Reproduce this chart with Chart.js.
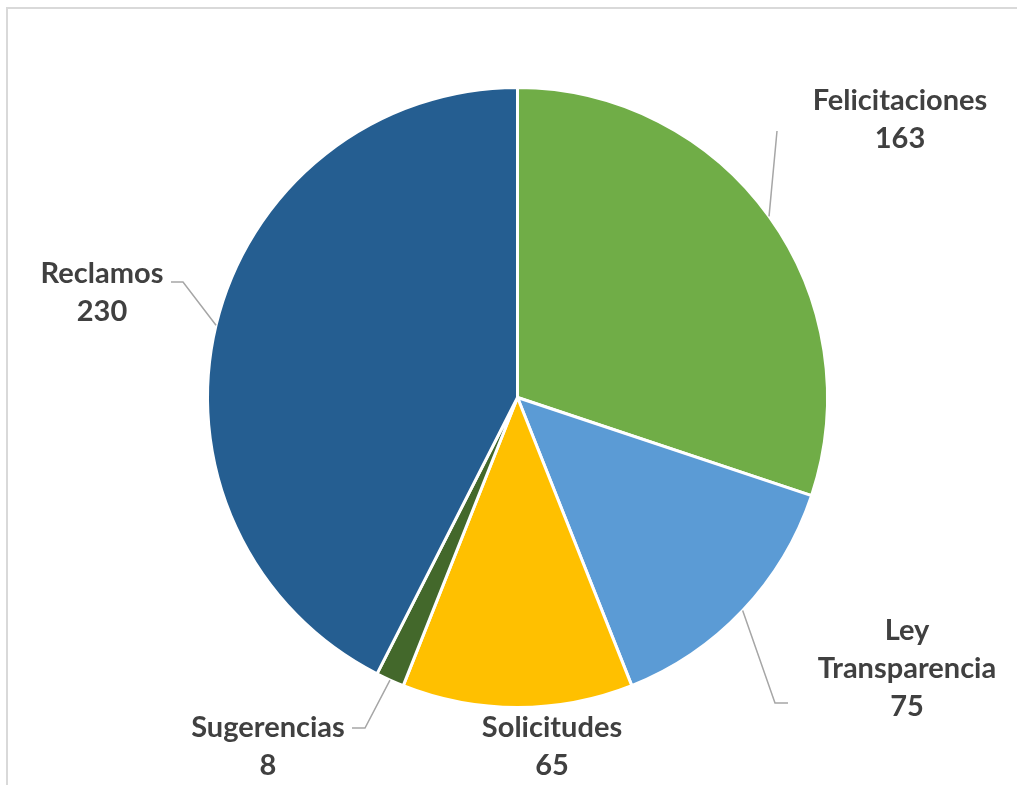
<!DOCTYPE html>
<html>
<head>
<meta charset="utf-8">
<script src="https://cdn.jsdelivr.net/npm/chart.js@4.4.1/dist/chart.umd.min.js"></script>
<style>
  html, body { margin: 0; padding: 0; background: #fff; }
  #wrap { position: relative; width: 1017px; height: 785px; overflow: hidden; }
  #frame { position: absolute; left: 6px; top: 7px; width: 1100px; height: 900px;
           border-left: 2px solid #d9d9d9; border-top: 2px solid #d9d9d9; }
  #chart { position: absolute; left: 0; top: 0; }
</style>
</head>
<body>
<div id="wrap">
  <div id="frame"></div>
  <canvas id="chart" width="1017" height="785"></canvas>
</div>
<script>
// Data
var categories = ["Felicitaciones", "Ley Transparencia", "Solicitudes", "Sugerencias", "Reclamos"];
var values = [163, 75, 65, 8, 230];
var colors = ["#70ad47", "#5b9bd5", "#ffc000", "#43682b", "#255e91"];

// Label text lines (Excel wraps the long one)
var labelLines = [["Felicitaciones"], ["Ley", "Transparencia"], ["Solicitudes"], ["Sugerencias"], ["Reclamos"]];

// Annotation layout: label centre x / first baseline, and leader line bends
var labelAnchor = [[900, 110], [907, 640], [552, 737], [268, 737], [102, 283]];
var leaderBends = [
  [[777, 131]],
  [[775, 703], [788, 703]],
  null,
  [[365, 728], [352, 728]],
  [[183, 282], [171, 282]]
];

var LABEL_FONT = "bold 29px Lato, 'Open Sans', sans-serif";
var LINE_H = 38;

var pieLabels = {
  id: "pieLabels",
  afterDatasetsDraw: function(chart) {
    var ctx = chart.ctx;
    var arcs = chart.getDatasetMeta(0).data;
    ctx.save();
    // leader lines
    ctx.strokeStyle = "#a6a6a6";
    ctx.lineWidth = 1.5;
    arcs.forEach(function(arc, i) {
      var bends = leaderBends[i];
      if (!bends) return;
      var p = arc.getProps(["x", "y", "startAngle", "endAngle", "outerRadius"], true);
      var mid = (p.startAngle + p.endAngle) / 2;
      ctx.beginPath();
      ctx.moveTo(p.x + Math.cos(mid) * p.outerRadius, p.y + Math.sin(mid) * p.outerRadius);
      bends.forEach(function(b) { ctx.lineTo(b[0], b[1]); });
      ctx.stroke();
    });
    // texts
    ctx.fillStyle = "#404040";
    ctx.font = LABEL_FONT;
    ctx.textAlign = "center";
    ctx.textBaseline = "alphabetic";
    arcs.forEach(function(arc, i) {
      var lines = labelLines[i].concat([String(values[i])]);
      var a = labelAnchor[i];
      lines.forEach(function(txt, k) {
        ctx.fillText(txt, a[0], a[1] + k * LINE_H);
      });
    });
    ctx.restore();
  }
};

new Chart(document.getElementById("chart").getContext("2d"), {
  type: "pie",
  data: {
    labels: categories,
    datasets: [{
      data: values,
      backgroundColor: colors,
      borderColor: "#ffffff",
      borderWidth: 3,
      hoverOffset: 0
    }]
  },
  options: {
    responsive: false,
    animation: false,
    layout: { padding: { left: 206, top: 86, right: 188, bottom: 76 } },
    plugins: {
      legend: { display: false },
      tooltip: { enabled: false }
    }
  },
  plugins: [pieLabels]
});
</script>
</body>
</html>
